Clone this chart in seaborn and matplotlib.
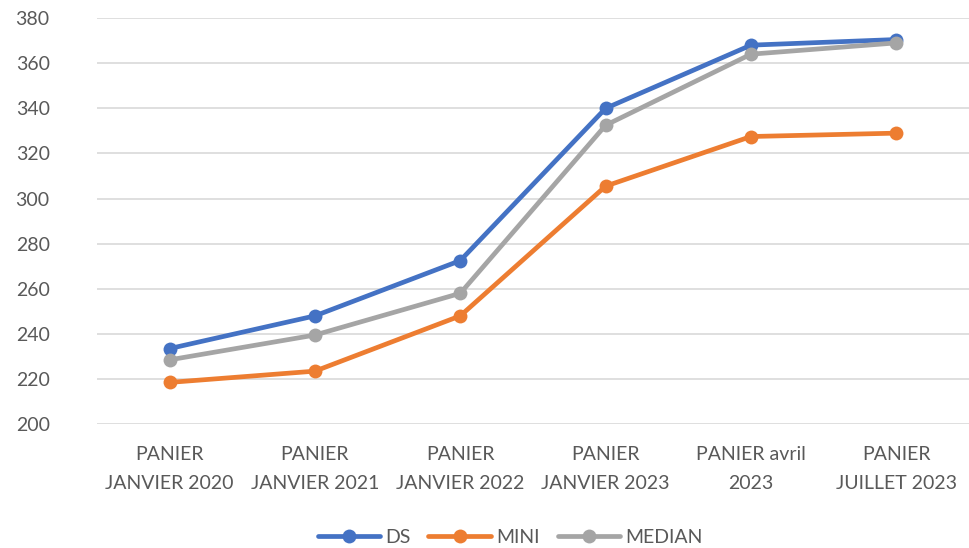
import pandas as pd
import seaborn as sns
import matplotlib.pyplot as plt

paniers = ["PANIER\nJANVIER 2020", "PANIER\nJANVIER 2021", "PANIER\nJANVIER 2022",
           "PANIER\nJANVIER 2023", "PANIER avril\n2023", "PANIER\nJUILLET 2023"]
ds = [233.5, 248, 272.5, 340, 368, 370.5]
mini = [218.5, 223.5, 248, 305.5, 327.5, 329]
median = [228.5, 239.5, 258, 332.5, 364, 369]
series = ["DS", "MINI", "MEDIAN"]
couleurs = ["#4472C4", "#ED7D31", "#A5A5A5"]

df = pd.DataFrame({"panier": paniers * 3,
                   "valeur": ds + mini + median,
                   "serie": [s for s in series for _ in paniers]})

sns.set_style("white")
plt.rcParams["font.family"] = ["Lato", "DejaVu Sans"]

fig = plt.figure(figsize=(9.69, 5.48), dpi=100)
ax = fig.add_axes([0.1, 0.226, 0.9, 0.741])

sns.lineplot(data=df, x="panier", y="valeur", hue="serie", hue_order=series,
             palette=couleurs, marker="o", markersize=10, markeredgewidth=0,
             linewidth=3.4, sort=False, ax=ax)

ax.set_ylim(200, 380)
ax.set_xlim(-0.5, 5.5)
ax.set_yticks(range(200, 381, 20))
ax.yaxis.grid(True, color="#D9D9D9", linewidth=1.2)
ax.set_axisbelow(True)
for s in ax.spines.values():
    s.set_visible(False)
ax.set_xlabel("")
ax.set_ylabel("")
ax.tick_params(axis="y", length=0, pad=34, labelsize=14, labelcolor="#595959")
ax.tick_params(axis="x", length=0, pad=16, labelsize=14, labelcolor="#595959")
for lab in ax.get_xticklabels():
    lab.set_linespacing(1.85)

h, l = ax.get_legend_handles_labels()
ax.legend(h, l, loc="center", bbox_to_anchor=(0.474, -0.278), ncol=3,
          frameon=False, fontsize=14, labelcolor="#595959", handlelength=3.2,
          handletextpad=0.3, columnspacing=0.9, borderaxespad=0)

fig.savefig("out.png", dpi=100)
